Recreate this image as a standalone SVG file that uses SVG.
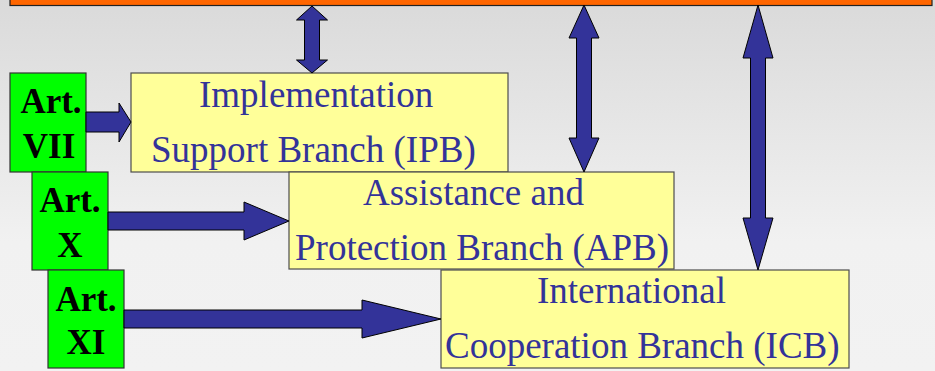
<svg xmlns="http://www.w3.org/2000/svg" width="935" height="371" viewBox="0 0 935 371">
<defs>
<linearGradient id="bg" x1="0" y1="0" x2="0" y2="1">
<stop offset="0" stop-color="#dadada"/>
<stop offset="0.65" stop-color="#f1f1f1"/>
<stop offset="1" stop-color="#f2f2f2"/>
</linearGradient>
</defs>
<style>
.branch{fill:#ffff99;stroke:#4d4d4d;stroke-width:1.2}
.art{fill:#00ff00;stroke:#333333;stroke-width:1.2}
.bt{font-family:"Liberation Serif","Times New Roman",serif;font-size:37px;fill:#333399}
.at{font-family:"Liberation Serif","Times New Roman",serif;font-size:35px;font-weight:bold;fill:#000000;text-anchor:middle}
.arr{fill:#333399;stroke:#000000;stroke-width:1;stroke-linejoin:miter}
</style>
<rect x="0" y="0" width="935" height="371" fill="url(#bg)"/>
<g id="top-bar">
<rect x="10" y="-5" width="922" height="10.5" fill="#ff6600" stroke="#222222" stroke-width="1.2"/>
</g>
<g id="ipb">
<rect class="branch" x="131" y="73" width="377" height="99"/>
<text class="bt" x="199" y="107">Implementation</text>
<text class="bt" x="151" y="162">Support Branch (IPB)</text>
</g>
<g id="apb">
<rect class="branch" x="289" y="172" width="385" height="97"/>
<text class="bt" x="363" y="205">Assistance and</text>
<text class="bt" x="295" y="260">Protection Branch (APB)</text>
</g>
<g id="icb">
<rect class="branch" x="441" y="270" width="408" height="98"/>
<text class="bt" x="537" y="303">International</text>
<text class="bt" x="445" y="358">Cooperation Branch (ICB)</text>
</g>
<g id="art-vii">
<rect class="art" x="10" y="73" width="76" height="99"/>
<text class="at" x="51" y="113">Art.</text>
<text class="at" x="49" y="158">VII</text>
</g>
<g id="art-x">
<rect class="art" x="32" y="172" width="76" height="98"/>
<text class="at" x="70" y="212">Art.</text>
<text class="at" x="70" y="257">X</text>
</g>
<g id="art-xi">
<rect class="art" x="48" y="270" width="76" height="98"/>
<text class="at" x="86" y="311">Art.</text>
<text class="at" x="86" y="354">XI</text>
</g>
<g id="connectors">
<polygon class="arr" points="312,6 327.5,20 319.5,20 319.5,60 327.5,60 312,73 296.5,60 304.5,60 304.5,20 296.5,20"/>
<polygon class="arr" points="584,5 599,38 591.5,38 591.5,138 599,138 584,172 569,138 576.5,138 576.5,38 569,38"/>
<polygon class="arr" points="758,5 773,58 765.5,58 765.5,218 773,218 758,270 743,218 750.5,218 750.5,58 743,58"/>
<polygon class="arr" points="86,112 119,112 119,103 131,122 119,142 119,132 86,132"/>
<polygon class="arr" points="108,212 244,212 244,202 289,221 244,240 244,230 108,230"/>
<polygon class="arr" points="124,310 362,310 362,300 441,319 362,338 362,328 124,328"/>
</g>
</svg>
